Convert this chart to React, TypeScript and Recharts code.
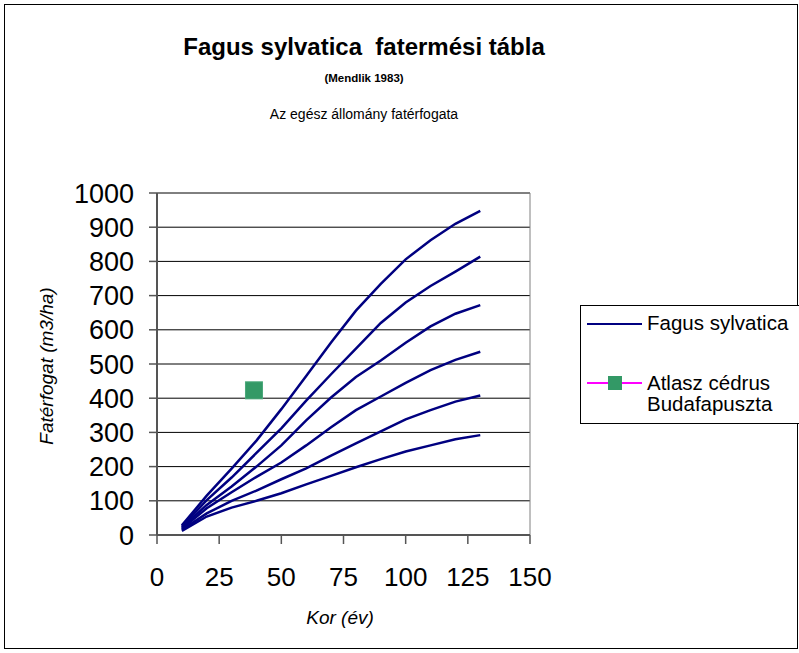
import React from 'react';
import {
  CartesianGrid,
  ComposedChart,
  Line,
  ReferenceArea,
  Scatter,
  XAxis,
  YAxis,
} from 'recharts';

// Mendlik (1983) yield table, total stand volume by site class
const ages = [10, 20, 30, 40, 50, 60, 70, 80, 90, 100, 110, 120, 130];
const siteI = [28, 115, 194, 276, 368, 465, 563, 656, 734, 806, 862, 910, 948];
const siteII = [24, 102, 168, 240, 312, 393, 470, 545, 620, 680, 728, 770, 814];
const siteIII = [21, 88, 142, 200, 262, 335, 402, 462, 510, 562, 610, 647, 672];
const siteIV = [18, 78, 125, 170, 212, 262, 315, 365, 405, 445, 482, 512, 536];
const siteV = [15, 63, 100, 130, 163, 195, 232, 268, 303, 338, 365, 390, 408];
const siteVI = [12, 54, 80, 100, 122, 148, 173, 198, 222, 244, 262, 280, 292];

const cedarAge = [39];
const cedarVolume = [423];

const xTicks = [0, 25, 50, 75, 100, 125, 150];
const yTicks = [0, 100, 200, 300, 400, 500, 600, 700, 800, 900, 1000];

const seriesKeys = ['s1', 's2', 's3', 's4', 's5', 's6'];
const series = [siteI, siteII, siteIII, siteIV, siteV, siteVI];

const data = ages.map((age, i) => {
  const row: any = { age };
  series.forEach((s, j) => {
    row[seriesKeys[j]] = s[i];
  });
  return row;
});

const cedarData = cedarAge.map((age, i) => ({ age, v: cedarVolume[i] }));

const FONT = '"Liberation Sans", Arial, sans-serif';

const Square = (props: any) => {
  const { cx, cy } = props;
  return <rect x={cx - 8.5} y={cy - 8.5} width={17} height={17} fill="#339966" stroke="#4aa87a" strokeWidth={1} />;
};

export default function App() {
  return (
    <div
      style={{
        position: 'absolute',
        left: 0,
        top: 0,
        width: 799,
        height: 653,
        overflow: 'hidden',
        background: '#fff',
        fontFamily: FONT,
      }}
    >
      <div
        style={{
          position: 'absolute',
          left: 4,
          top: 4,
          width: 792,
          height: 643,
          border: '1px solid #000',
        }}
      />
      <ComposedChart
        width={799}
        height={653}
        data={data}
        margin={{ top: 193, right: 269, bottom: 78, left: 97 }}
      >
        <CartesianGrid horizontal vertical={false} stroke="#000" strokeWidth={1} />
        <ReferenceArea x1={0} x2={150} y1={0} y2={1000} fill="none" stroke="#808080" strokeWidth={1} />
        <XAxis
          dataKey="age"
          type="number"
          domain={[0, 150]}
          ticks={xTicks}
          interval={0}
          height={40}
          tickSize={9}
          tickMargin={24}
          axisLine={{ stroke: '#555', strokeWidth: 2 }}
          tickLine={{ stroke: '#555', strokeWidth: 1.5 }}
          tick={{ fill: '#000', fontSize: 26, fontFamily: FONT }}
        />
        <YAxis
          type="number"
          domain={[0, 1000]}
          ticks={yTicks}
          interval={0}
          width={60}
          tickSize={8}
          tickMargin={15}
          axisLine={{ stroke: '#555', strokeWidth: 2 }}
          tickLine={{ stroke: '#555', strokeWidth: 1.5 }}
          tick={{ fill: '#000', fontSize: 27, fontFamily: FONT }}
        />
        {seriesKeys.map((k) => (
          <Line
            key={k}
            type="linear"
            dataKey={k}
            stroke="#000080"
            strokeWidth={2.5}
            dot={false}
            isAnimationActive={false}
          />
        ))}
        <Scatter
          data={cedarData}
          dataKey="v"
          shape={<Square />}
          isAnimationActive={false}
        />
      </ComposedChart>

      <div
        style={{
          position: 'absolute',
          left: 0,
          width: 728,
          top: 33,
          textAlign: 'center',
          fontWeight: 'bold',
          fontSize: 24,
          whiteSpace: 'pre',
        }}
      >
        {'Fagus sylvatica  fatermési tábla'}
      </div>
      <div
        style={{
          position: 'absolute',
          left: 0,
          width: 728,
          top: 72,
          textAlign: 'center',
          fontWeight: 'bold',
          fontSize: 11.5,
        }}
      >
        (Mendlik 1983)
      </div>
      <div
        style={{
          position: 'absolute',
          left: 0,
          width: 728,
          top: 106,
          textAlign: 'center',
          fontSize: 14,
        }}
      >
        Az egész állomány fatérfogata
      </div>

      <div
        style={{
          position: 'absolute',
          left: 47,
          top: 366,
          transform: 'translate(-50%, -50%) rotate(-90deg)',
          fontStyle: 'italic',
          fontSize: 19,
          whiteSpace: 'nowrap',
        }}
      >
        Fatérfogat (m3/ha)
      </div>
      <div
        style={{
          position: 'absolute',
          left: 340,
          top: 618,
          transform: 'translate(-50%, -50%)',
          fontStyle: 'italic',
          fontSize: 19,
          whiteSpace: 'nowrap',
        }}
      >
        Kor (év)
      </div>

      <div
        style={{
          position: 'absolute',
          left: 580,
          top: 305,
          width: 240,
          height: 117,
          border: '1px solid #000',
          background: '#fff',
          fontSize: 20.5,
          color: '#000',
        }}
      >
        <div style={{ position: 'absolute', left: 6, top: 17, width: 55, height: 2, background: '#000080' }} />
        <div style={{ position: 'absolute', left: 66, top: 5, whiteSpace: 'nowrap' }}>Fagus sylvatica</div>
        <div style={{ position: 'absolute', left: 6, top: 76, width: 55, height: 2, background: '#ff00ff' }} />
        <div
          style={{
            position: 'absolute',
            left: 27,
            top: 70,
            width: 14,
            height: 14,
            background: '#339966',
          }}
        />
        <div style={{ position: 'absolute', left: 66, top: 66, lineHeight: '21px', whiteSpace: 'nowrap' }}>
          Atlasz cédrus
          <br />
          Budafapuszta
        </div>
      </div>
    </div>
  );
}
